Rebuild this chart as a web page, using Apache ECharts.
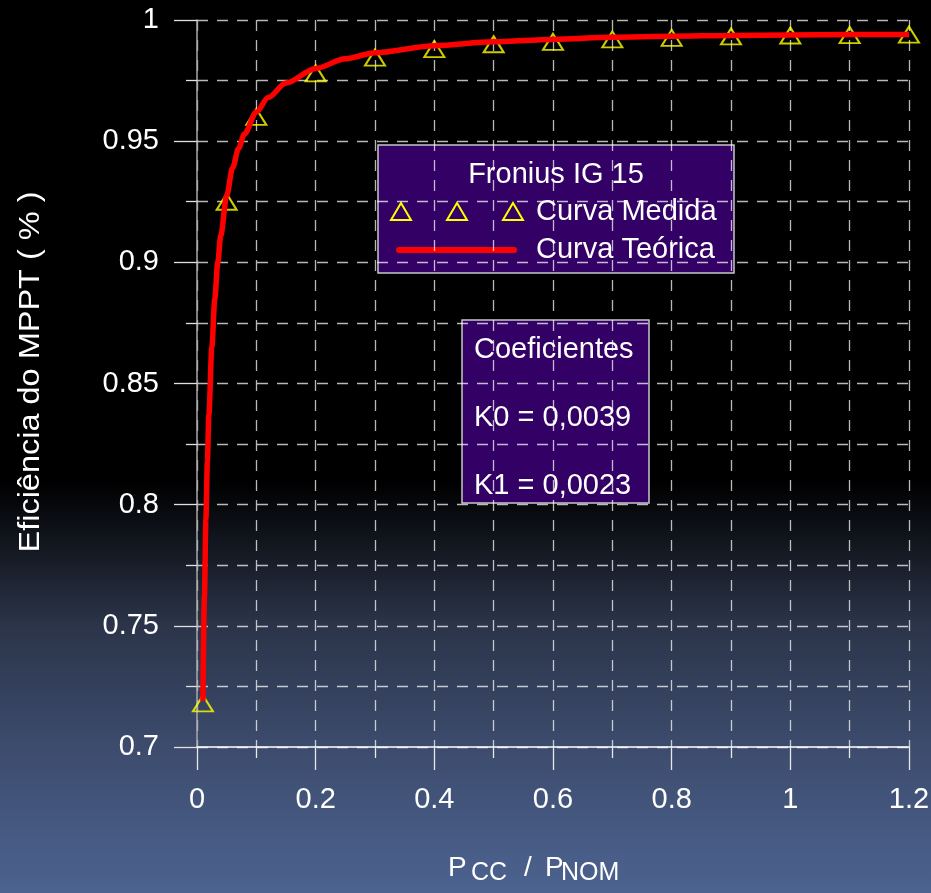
<!DOCTYPE html>
<html>
<head>
<meta charset="utf-8">
<script src="https://cdn.jsdelivr.net/npm/echarts@6/dist/echarts.min.js"></script>
<style>
html, body { margin: 0; padding: 0; background: #000; }
#chart { width: 931px; height: 893px; }
</style>
</head>
<body>
<div id="chart"></div>
<script>
// Curva Medida (triangulos)
var medidaX = [0.01, 0.05, 0.1, 0.2, 0.3, 0.4, 0.5, 0.6, 0.7, 0.8, 0.9, 1.0, 1.1, 1.2];
var medidaY = [0.718, 0.925, 0.960, 0.978, 0.9845, 0.988, 0.990, 0.991, 0.992, 0.9926, 0.9932, 0.9936, 0.9938, 0.994];
// Curva Teorica (linha vermelha)
var teoricaX = [0.01, 0.0125, 0.015, 0.0175, 0.02, 0.025, 0.03, 0.035, 0.04, 0.05, 0.06, 0.07, 0.08, 0.1, 0.12, 0.15, 0.2, 0.25, 0.3, 0.4, 0.5, 0.6, 0.7, 0.8, 0.9, 1.0, 1.1, 1.2];
var teoricaY = [0.719, 0.762, 0.794, 0.818, 0.837, 0.865, 0.885, 0.900, 0.911, 0.9275, 0.939, 0.947, 0.953, 0.962, 0.968, 0.974, 0.980, 0.984, 0.9865, 0.9894, 0.991, 0.992, 0.9929, 0.9933, 0.9936, 0.9938, 0.994, 0.994];
var legendTitle = 'Fronius IG 15';
var coefLines = ['Coeficientes', 'K0 = 0,0039', 'K1 = 0,0023'];

var font = "'Liberation Sans', Arial, sans-serif";
var gridColor = 'rgba(255,255,255,0.72)';

var zip = function(xs, ys) {
	var out = [];
	for (var i = 0; i < xs.length; i++) {
		out.push([xs[i], ys[i]]);
	}
	return out;
};

var dashed = {
	show: true,
	lineStyle: { color: gridColor, width: 1.3, type: [11, 9] }
};

var chart = echarts.init(document.getElementById('chart'));

chart.setOption({
	animation: false,
	backgroundColor: {
		type: 'linear', x: 0, y: 0, x2: 0, y2: 1,
		colorStops: [
			{ offset: 0, color: '#000000' },
			{ offset: 0.54, color: '#000000' },
			{ offset: 0.62, color: '#151a24' },
			{ offset: 0.70, color: '#2b3449' },
			{ offset: 0.84, color: '#3d4c6e' },
			{ offset: 1, color: '#4c6390' }
		]
	},
	textStyle: { fontFamily: font },
	grid: { left: 197, right: 22, top: 20, bottom: 146, containLabel: false, outerBoundsMode: 'none' },
	xAxis: {
		type: 'value',
		min: 0,
		max: 1.2,
		interval: 0.2,
		axisLine: { show: true, lineStyle: { color: '#ffffff', width: 1.5 } },
		axisTick: { show: true, length: 23, lineStyle: { color: '#e8e8e8', width: 1.3 } },
		minorTick: { show: true, splitNumber: 2, length: 11, lineStyle: { color: '#e8e8e8', width: 1.3 } },
		splitLine: dashed,
		minorSplitLine: dashed,
		axisLabel: { color: '#ffffff', fontSize: 29, margin: 38, fontFamily: font, showMinLabel: true, showMaxLabel: true }
	},
	yAxis: {
		type: 'value',
		min: 0.7,
		max: 1,
		interval: 0.05,
		axisLine: { show: true, lineStyle: { color: '#a8a8a8', width: 1.5 } },
		axisTick: { show: true, length: 23, lineStyle: { color: '#e0e0e0', width: 1.3 } },
		minorTick: { show: true, splitNumber: 2, length: 11, lineStyle: { color: '#e0e0e0', width: 1.3 } },
		splitLine: dashed,
		minorSplitLine: dashed,
		axisLabel: { color: '#ffffff', fontSize: 29, margin: 38, fontFamily: font, showMinLabel: true, showMaxLabel: true }
	},
	series: [{
		name: 'Curva Medida',
		type: 'scatter',
		z: 2,
		symbol: 'triangle',
		symbolSize: [20, 16],
		itemStyle: { color: 'rgba(0,0,0,0)', borderColor: '#ffff00', borderWidth: 2 },
		data: zip(medidaX, medidaY)
	}, {
		name: 'Curva Teórica',
		type: 'line',
		z: 3,
		showSymbol: false,
		smooth: 0.3,
		smoothMonotone: 'x',
		lineStyle: { color: '#ff0000', width: 5.5 },
		data: zip(teoricaX, teoricaY)
	}],
	graphic: [{
		// titulo do eixo y
		type: 'text',
		x: 31,
		y: 372,
		rotation: Math.PI / 2,
		scaleX: 1.12,
		z: 10,
		style: { text: 'Eficiência do MPPT ( % )', fill: '#ffffff', font: '29px ' + font, align: 'center', verticalAlign: 'middle' }
	}, {
		// titulo do eixo x: Pcc / Pnom
		type: 'group',
		z: 10,
		children: [
			{ type: 'text', x: 448, y: 868, style: { text: 'P', fill: '#fff', font: '28px ' + font, verticalAlign: 'middle' } },
			{ type: 'text', x: 471, y: 873, style: { text: 'CC', fill: '#fff', font: '25px ' + font, verticalAlign: 'middle' } },
			{ type: 'text', x: 524, y: 868, style: { text: '/', fill: '#fff', font: '28px ' + font, verticalAlign: 'middle' } },
			{ type: 'text', x: 545, y: 868, style: { text: 'P', fill: '#fff', font: '28px ' + font, verticalAlign: 'middle' } },
			{ type: 'text', x: 561, y: 873, style: { text: 'NOM', fill: '#fff', font: '25px ' + font, verticalAlign: 'middle' } }
		]
	}, {
		// legenda
		type: 'group',
		z: 10,
		children: [
			{ type: 'rect', shape: { x: 378, y: 145, width: 356, height: 128 }, style: { fill: '#330066', stroke: '#c8c8c8', lineWidth: 1.5 } },
			{ type: 'text', x: 556, y: 175, style: { text: legendTitle, fill: '#fff', font: '29px ' + font, align: 'center', verticalAlign: 'middle' } },
			{ type: 'polygon', shape: { points: [[401, 203], [411, 220], [391, 220]] }, style: { fill: 'none', stroke: '#ffff00', lineWidth: 2 } },
			{ type: 'polygon', shape: { points: [[457, 203], [467, 220], [447, 220]] }, style: { fill: 'none', stroke: '#ffff00', lineWidth: 2 } },
			{ type: 'polygon', shape: { points: [[513, 203], [523, 220], [503, 220]] }, style: { fill: 'none', stroke: '#ffff00', lineWidth: 2 } },
			{ type: 'text', x: 536, y: 212, style: { text: 'Curva Medida', fill: '#fff', font: '29px ' + font, verticalAlign: 'middle' } },
			{ type: 'line', shape: { x1: 399, y1: 250, x2: 514, y2: 250 }, style: { stroke: '#ff0000', lineWidth: 6, lineCap: 'round' } },
			{ type: 'text', x: 536, y: 250, style: { text: 'Curva Teórica', fill: '#fff', font: '29px ' + font, verticalAlign: 'middle' } }
		]
	}, {
		// caixa dos coeficientes
		type: 'group',
		z: 10,
		children: [
			{ type: 'rect', shape: { x: 462, y: 320, width: 187, height: 183 }, style: { fill: '#330066', stroke: '#c8c8c8', lineWidth: 1.5 } },
			{ type: 'text', x: 474, y: 350, style: { text: coefLines[0], fill: '#fff', font: '29px ' + font, verticalAlign: 'middle' } },
			{ type: 'text', x: 474, y: 418, style: { text: coefLines[1], fill: '#fff', font: '29px ' + font, verticalAlign: 'middle' } },
			{ type: 'text', x: 474, y: 486, style: { text: coefLines[2], fill: '#fff', font: '29px ' + font, verticalAlign: 'middle' } }
		]
	}]
});
</script>
</body>
</html>
